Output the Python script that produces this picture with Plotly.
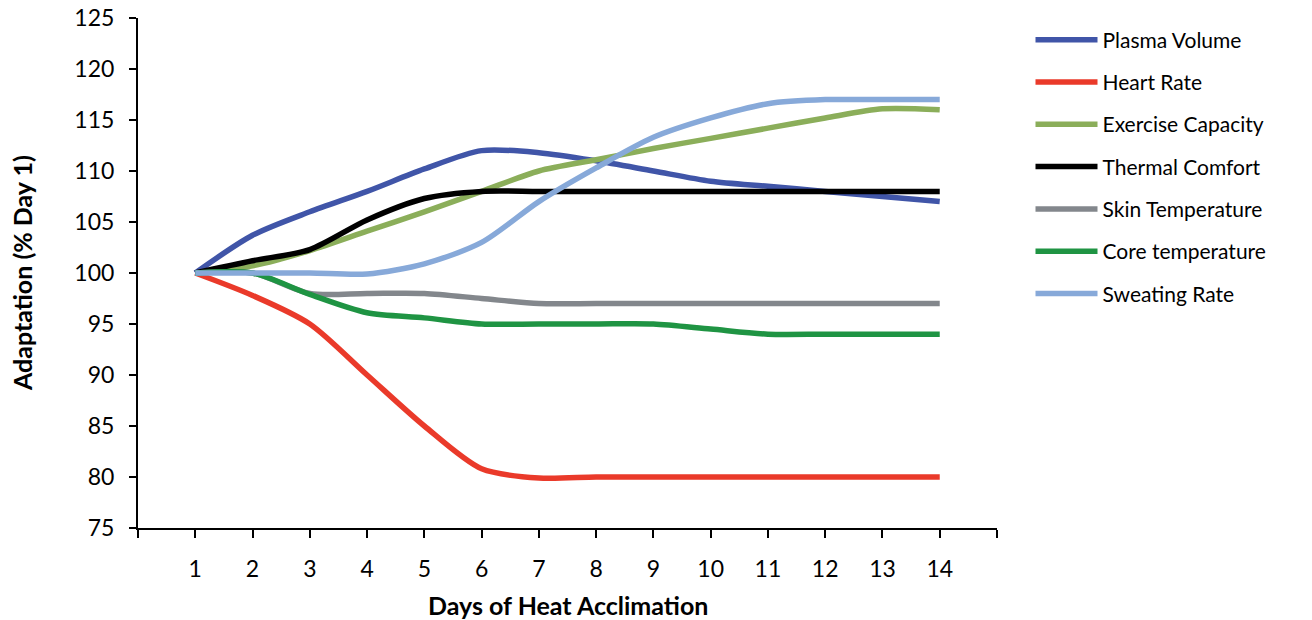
import plotly.graph_objects as go

days = list(range(1, 15))
series_names = ["Plasma Volume", "Heart Rate", "Exercise Capacity", "Thermal Comfort",
                "Skin Temperature", "Core temperature", "Sweating Rate"]
plasma_volume = [100, 103.7, 106, 108, 110.2, 112, 111.8, 111, 110, 109, 108.5, 108, 107.5, 107]
heart_rate = [100, 97.8, 95, 90, 85, 80.8, 79.9, 80, 80, 80, 80, 80, 80, 80]
exercise_capacity = [100, 100.7, 102.2, 104.1, 106, 108, 110, 111.1, 112.2, 113.2, 114.2, 115.2, 116.1, 116]
thermal_comfort = [100, 101.2, 102.3, 105.2, 107.3, 108, 108, 108, 108, 108, 108, 108, 108, 108]
skin_temperature = [100, 100, 98, 98, 98, 97.5, 97, 97, 97, 97, 97, 97, 97, 97]
core_temperature = [100, 100, 97.9, 96.1, 95.6, 95, 95, 95, 95, 94.5, 94, 94, 94, 94]
sweating_rate = [100, 100, 100, 99.9, 100.9, 103, 107, 110.3, 113.3, 115.2, 116.6, 117, 117, 117]

colors = ["#4055A8", "#EA3A2A", "#8BAE5A", "#000000", "#83878C", "#1F9443", "#87A9D9"]
all_values = [plasma_volume, heart_rate, exercise_capacity, thermal_comfort,
              skin_temperature, core_temperature, sweating_rate]

font_family = "Lato, Open Sans, sans-serif"

fig = go.Figure()
for i, (name, vals, col) in enumerate(zip(series_names, all_values, colors)):
    fig.add_trace(go.Scatter(
        x=days, y=vals, name=name, mode="lines",
        line=dict(color=col, width=5.5, shape="spline", smoothing=0.8),
        legendgroup=f"g{i}",
    ))

fig.update_layout(
    width=1312, height=620,
    paper_bgcolor="white", plot_bgcolor="white",
    margin=dict(l=138, r=315, t=18, b=92, autoexpand=False),
    font=dict(family=font_family, color="black", size=21),
    legend=dict(
        x=1.039, y=0.997, xanchor="left", yanchor="top",
        font=dict(size=21, family=font_family),
        tracegroupgap=12,
        itemwidth=62,
        bgcolor="rgba(0,0,0,0)",
    ),
    xaxis=dict(
        range=[0, 15],
        tickmode="array",
        tickvals=list(range(0, 16)),
        ticktext=[""] + [str(d) for d in days] + [""],
        showline=True, linecolor="black", linewidth=2,
        ticks="outside", ticklen=8, tickwidth=2, tickcolor="black",
        showgrid=False, zeroline=False,
        ticklabelstandoff=11,
        ticklabeloverflow="allow",
        tickfont=dict(size=23),
        automargin=False,
    ),
    yaxis=dict(
        range=[75, 125], dtick=5, tick0=75,
        showline=True, linecolor="black", linewidth=2,
        ticks="outside", ticklen=7, tickwidth=2, tickcolor="black",
        showgrid=False, zeroline=False,
        tickfont=dict(size=23),
        ticklabelstandoff=10,
        ticklabeloverflow="allow",
        automargin=False,
    ),
    annotations=[
        dict(text="<b>Days of Heat Acclimation</b>", xref="paper", yref="paper",
             x=0.5, y=-0.151, xanchor="center", yanchor="middle",
             showarrow=False, font=dict(size=25)),
        dict(text="<b>Adaptation (% Day 1)</b>", xref="paper", yref="paper",
             x=-0.135, y=0.5, xanchor="center", yanchor="middle", textangle=-90,
             showarrow=False, font=dict(size=25)),
    ],
)

fig.write_html("out.html",
               config={"displayModeBar": False},
               post_script="document.body.style.margin='0';document.body.style.overflow='hidden';")
